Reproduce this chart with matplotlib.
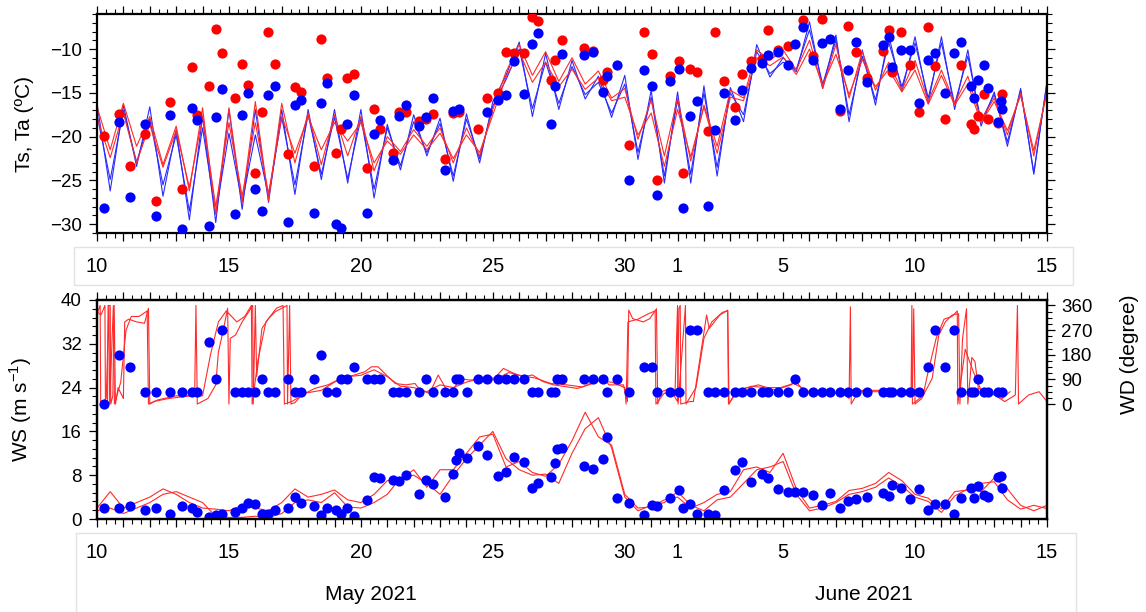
import numpy as np
import matplotlib
matplotlib.use("Agg")
import matplotlib.pyplot as plt
from matplotlib.patches import Rectangle
from matplotlib.ticker import MultipleLocator, FixedLocator

plt.rcParams['font.family'] = ['Liberation Sans', 'DejaVu Sans']
plt.rcParams['mathtext.fontset'] = 'custom'
plt.rcParams['mathtext.rm'] = 'Liberation Sans'

nan = np.nan

# === Model series, every 12 h, x = days since 10 May 2021 ===
model_day = np.arange(0, 36.01, 0.5)

ts_model_a = [
    -16.2, -26.2, -16.4, -23.4, -16.6, -26.8, -19.2, -29.5, -17.7, -29.8,
    -16.9, -28.3, -16.9, -27.5, -16.9, -26.6, -16.9, -24.9, -16.9, -25.3,
    -16.9, -27.0, -18.6, -23.8, -17.5, -22.2, -17.9, -25.1, -17.4, -23.0,
    -16.0, -13.0, -9.2, -17.7, -10.5, -16.9, -11.3, -15.7, -13.1, -17.8,
    -13.0, -22.6, -14.7, -25.3, -14.9, -25.3, -14.2, -24.5, -14.4, -18.3,
    -9.5, -13.2, -11.0, -12.6, -6.9, -14.5, -8.4, -18.3, -10.1, -16.4,
    -8.4, -14.8, -8.6, -16.2, -8.6, -16.9, -10.1, -18.8, -14.9, -21.1,
    -14.5, -24.3, -13.7]
ts_model_b = [
    -17.5, -24.9, -17.0, -22.9, -18.0, -25.5, -19.8, -28.5, -19.0, -28.8,
    -19.6, -27.5, -19.8, -26.8, -17.8, -25.5, -17.5, -24.3, -17.8, -24.8,
    -17.9, -26.0, -19.0, -23.3, -18.3, -21.8, -18.5, -24.5, -18.0, -22.5,
    -16.5, -13.5, -10.0, -16.8, -11.5, -16.2, -12.0, -15.2, -13.8, -17.3,
    -14.0, -21.8, -15.5, -24.5, -15.8, -24.3, -15.0, -23.5, -15.0, -17.5,
    -10.3, -12.8, -11.5, -12.3, -7.8, -14.0, -9.0, -17.5, -10.8, -15.8,
    -9.2, -14.3, -9.3, -15.6, -9.3, -16.3, -10.8, -18.2, -15.2, -20.6,
    -14.7, -24.1, -13.8]
ta_model_a = [
    -16.6, -21.5, -16.2, -21.1, -17.7, -23.2, -18.8, -26.2, -16.7, -28.9,
    -16.7, -27.5, -16.0, -27.3, -16.2, -23.0, -17.3, -23.2, -17.5, -22.2,
    -17.7, -23.9, -20.0, -21.7, -19.2, -21.1, -19.0, -23.0, -19.0, -22.2,
    -16.9, -12.6, -9.5, -13.0, -10.3, -13.7, -11.0, -14.0, -12.5, -15.6,
    -14.5, -20.3, -15.8, -22.2, -15.6, -22.8, -16.4, -21.1, -14.7, -15.6,
    -10.1, -11.3, -10.1, -12.4, -9.0, -14.5, -9.5, -15.6, -10.3, -14.7,
    -11.5, -14.7, -11.3, -16.0, -12.4, -16.2, -13.1, -18.1, -15.6, -19.8,
    -15.0, -22.2, -14.7]
ta_model_b = [
    -17.8, -22.4, -17.3, -23.0, -18.6, -23.5, -19.3, -25.8, -17.7, -28.0,
    -18.4, -26.8, -18.4, -26.5, -17.7, -21.9, -17.7, -21.5, -18.4, -20.5,
    -18.4, -23.0, -20.5, -22.0, -19.8, -21.5, -19.6, -22.5, -19.8, -21.8,
    -17.5, -13.2, -10.3, -13.8, -11.5, -14.3, -12.3, -14.6, -13.3, -15.9,
    -15.5, -19.8, -17.3, -23.4, -16.9, -22.3, -16.6, -21.9, -15.5, -15.9,
    -11.0, -11.9, -10.9, -12.9, -10.0, -14.1, -10.6, -15.2, -11.2, -14.3,
    -12.3, -14.9, -12.4, -16.3, -13.0, -16.4, -14.0, -18.4, -16.0, -19.3,
    -15.3, -21.6, -15.0]
ws_model_a = [
    2.0, 5.0, 2.0, 3.0, 4.0, 5.5, 4.5, 3.0, 2.0, 1.8,
    1.5, 2.5, 2.0, 1.5, 3.0, 5.5, 4.0, 4.5, 5.3, 3.5,
    3.0, 4.5, 7.0, 7.2, 9.0, 5.8, 9.0, 9.0, 12.0, 15.0,
    15.5, 9.5, 10.5, 8.5, 7.8, 10.0, 14.3, 19.5, 15.0, 13.5,
    4.5, 2.0, 2.2, 3.5, 4.0, 2.0, 3.0, 4.5, 5.0, 9.0,
    9.5, 8.5, 12.0, 5.5, 2.0, 2.5, 3.2, 5.2, 5.6, 6.5,
    8.5, 7.0, 4.5, 3.8, 1.8, 5.0, 5.3, 6.5, 6.8, 3.5,
    1.8, 2.5, 1.9]
ws_model_b = [
    1.5, 2.0, 1.0, 2.0, 3.0, 4.5, 5.0, 4.0, 3.0, 0.5,
    0.3, 0.3, 0.5, 0.3, 1.0, 3.0, 3.5, 3.0, 4.8, 2.2,
    2.0, 3.0, 4.5, 7.5, 8.0, 6.5, 4.5, 8.0, 11.0, 13.5,
    16.0, 11.0, 9.0, 8.0, 8.2, 6.5, 12.0, 16.5, 18.5, 13.0,
    4.0, 1.5, 2.5, 3.0, 5.0, 2.5, 1.5, 3.5, 4.0, 6.5,
    9.0, 9.5, 10.5, 4.5, 1.5, 2.0, 3.0, 4.5, 5.0, 5.8,
    7.5, 6.0, 4.0, 3.2, 1.2, 4.2, 5.5, 5.0, 7.5, 5.5,
    2.5, 1.5, 2.5]

# wind direction (degree), irregular times
wd_day_a = [0.00, 0.15, 0.30, 0.32, 0.40, 0.42, 0.50, 0.52, 0.60, 0.65,
            0.70, 0.80, 1.00, 1.05, 1.20, 1.50, 1.80, 1.95, 2.00, 2.20,
            2.70, 3.20, 3.70, 3.75, 3.80, 4.20, 4.50, 4.60, 4.80, 4.95,
            5.00, 5.05, 5.25, 5.50, 5.75, 5.90, 5.92, 6.00, 6.05, 6.25,
            6.50, 6.75, 7.00, 7.20, 7.22, 7.30, 7.35, 7.50, 7.75, 8.25,
            8.75, 9.25, 9.75, 10.15, 10.40, 10.65, 10.90, 11.30, 11.70, 12.05,
            12.24, 12.60, 12.93, 13.25, 13.50, 13.75, 14.07, 14.50, 15.00, 15.40,
            15.80, 16.15, 16.50, 16.90, 17.30, 17.80, 18.20, 18.70, 19.20, 19.40,
            19.95, 20.10, 20.15, 20.30, 20.70, 20.95, 21.20, 21.25, 21.40, 21.70,
            22.00, 22.05, 22.10, 22.12, 22.47, 22.60, 23.10, 23.20, 23.60, 23.90,
            23.95, 24.20, 24.56, 25.06, 25.70, 26.30, 26.45, 26.70, 27.10, 27.50,
            27.70, 28.20, 28.50, 28.55, 28.58, 28.85, 29.50, 30.10, 30.75, 30.90,
            30.95, 31.00, 31.25, 31.65, 31.90, 32.15, 32.40, 32.65, 32.70, 32.80,
            32.95, 33.00, 33.15, 33.27, 33.40, 33.65, 34.00, 34.40, 34.80, 34.88,
            34.92, 35.30, 35.70, 36.00]
wd_model_a = [337, 325, 360, 0, 0, 360, 360, 0, 30, 360,
              0, 60, 20, 300, 310, 300, 295, 350, 0, 10,
              20, 26, 32, 360, 0, 20, 70, 190, 276, 350,
              0, 240, 252, 300, 337, 360, 0, 360, 100, 276,
              312, 337, 350, 360, 0, 360, 0, 5, 32, 57,
              70, 94, 106, 118, 136, 136, 112, 75, 70, 75,
              51, 39, 106, 51, 51, 94, 88, 88, 88, 130,
              112, 100, 106, 82, 70, 63, 57, 72, 94, 70,
              70, 9, 343, 312, 300, 312, 348, 0, 45, 57,
              9, 348, 360, 0, 9, 9, 325, 276, 325, 343,
              0, 45, 57, 70, 51, 70, 88, 57, 33, 45,
              33, 45, 20, 355, 0, 45, 45, 45, 45, 39,
              348, 0, 20, 94, 252, 300, 325, 330, 0, 240,
              348, 0, 170, 155, 57, 45, 33, 9, 33, 360,
              0, 33, 45, 9]
wd_day_b = [0.00, 0.12, 0.14, 0.35, 0.45, 0.48, 0.62, 0.66, 0.90, 1.10,
            1.30, 1.60, 1.90, 1.95, 2.30, 3.00, 3.60, 4.00, 4.30, 4.60,
            4.90, 5.30, 5.60, 5.85, 5.88, 6.10, 6.40, 6.80, 7.05, 7.10,
            7.40, 7.90, 8.50, 9.00, 9.50, 10.00, 10.50, 11.00, 11.50, 12.00,
            12.50, 13.00, 13.50, 14.00, 14.60, 15.20, 15.60, 16.00, 16.60, 17.20,
            17.80, 18.40, 18.90, 19.50, 20.00, 20.05, 20.12, 20.50, 20.90, 21.15,
            21.18, 21.50, 21.90, 22.00, 22.02, 22.30, 22.32, 22.70, 23.00, 23.30,
            23.70, 23.90, 23.93, 24.30, 24.80, 25.30, 25.90, 26.40, 27.00, 27.60,
            28.30, 28.90, 29.60, 30.30, 30.85, 30.88, 30.90, 31.30, 31.50, 31.80,
            32.10, 32.40, 32.60, 32.62, 32.90, 33.05, 33.20, 33.50, 33.90, 34.30,
            34.60]
wd_model_b = [330, 360, 0, 20, 360, 0, 360, 0, 80, 270,
              320, 320, 340, 0, 15, 30, 30, 30, 180, 300,
              340, 300, 320, 360, 0, 160, 300, 350, 360, 0,
              10, 40, 50, 80, 100, 105, 125, 100, 65, 60,
              45, 70, 60, 80, 95, 95, 115, 105, 95, 75,
              70, 62, 85, 80, 60, 0, 300, 310, 330, 340,
              0, 40, 30, 360, 0, 360, 0, 60, 240, 300,
              335, 340, 0, 50, 65, 60, 60, 75, 45, 40,
              40, 50, 50, 45, 50, 360, 0, 30, 120, 240,
              310, 320, 340, 0, 200, 160, 120, 50, 40, 20,
              45]

# === Observations (dots) ===
obs_day = [0.25, 0.85, 1.24, 1.82, 2.24, 2.75, 3.23, 3.61, 3.79, 4.24,
           4.50, 4.72, 5.24, 5.51, 5.73, 5.99, 6.24, 6.49, 6.75, 7.22,
           7.49, 7.73, 8.21, 8.50, 8.73, 9.07, 9.25, 9.49, 9.73, 10.23,
           10.48, 10.72, 11.23, 11.44, 11.72,
           12.21, 12.47, 12.72, 13.20, 13.48, 13.60, 13.73, 14.03, 14.45, 14.77,
           15.19, 15.50, 15.80, 16.18, 16.47, 16.72, 17.19, 17.34, 17.42, 17.63,
           18.45, 18.78, 19.19, 19.31, 19.72, 20.17, 20.73, 21.03, 21.21, 21.71,
           22.07, 22.19, 22.47, 22.75, 23.16, 23.43, 23.76,
           24.18, 24.43, 24.79, 25.19, 25.42, 25.80, 26.17, 26.45, 26.77, 27.15,
           27.46, 27.78, 28.16, 28.45, 28.75, 29.17, 29.77, 30.01, 30.14, 30.46,
           30.79, 31.15, 31.48, 31.77, 32.13, 32.47, 32.75, 33.12, 33.25, 33.40,
           33.63, 33.78, 34.16, 34.25, 34.31]
ts_obs = [-28.1, -18.3, -26.9, -18.6, -29.1, -17.5, -30.5, -16.7, -18.1, -30.2,
          -17.8, -14.6, -28.8, -17.5, -15.0, -26.0, -28.5, -15.3, -14.2, -29.8,
          -16.4, -15.8, -28.7, -16.2, -13.9, -30.0, -30.4, -18.6, -15.2, -28.7,
          -19.7, -18.1, -22.7, -17.6, -16.4,
          -18.8, -17.8, -15.6, -23.8, -17.1, nan, -16.9, nan, nan, -17.2,
          -15.8, -15.3, -11.4, -15.1, -9.4, -8.2, -18.6, -14.2, nan, -10.6,
          -10.7, -10.3, -14.9, -13.1, -11.8, -25.0, -12.4, -14.2, -26.7, -13.6,
          -12.3, -28.2, -17.6, -15.9, -27.9, -19.2, -15.0,
          -18.1, -14.7, -12.2, -11.6, -10.7, -10.3, -11.8, -9.4, -7.5, -11.2,
          -9.3, -8.8, -16.9, -12.4, -9.2, -13.8, -9.5, -8.6, -12.0, -10.1,
          -10.1, -16.2, -11.3, -10.5, -15.0, -10.4, -9.2, -14.2, -15.6, -13.5,
          -11.8, -14.4, -18.3, -15.9, -16.9]
ta_obs = [-19.9, -17.4, -23.4, -19.7, -27.4, -16.0, -26.0, -12.0, -17.5, -14.2,
          -7.7, -10.5, -15.6, -11.7, -14.1, -24.1, -17.2, -8.1, -11.7, -22.0,
          -14.3, -14.9, -23.3, -8.8, -13.3, -21.9, -19.1, -13.3, -12.9, -23.6,
          -16.9, -19.1, -21.9, -17.2, -17.2,
          -18.2, -18.0, -17.4, -22.6, -17.3, nan, -17.2, nan, -19.1, -15.6,
          -15.0, -10.3, -10.5, -10.4, -6.3, -6.8, -13.5, -11.2, nan, -9.0,
          -9.9, -10.2, -13.5, -12.6, nan, -21.0, -8.0, -10.6, -25.0, -13.1,
          -11.4, -24.1, -12.3, -12.6, -19.3, -8.1, -13.6,
          -16.6, -12.8, -11.4, -11.1, -7.8, -10.1, -9.7, nan, -6.7, -10.8,
          -6.6, nan, -17.1, -7.4, -10.3, -13.3, -10.2, -7.8, -12.6, -8.0,
          -11.8, -17.2, -7.5, -11.9, -18.0, nan, -11.8, -18.6, -19.1, -17.7,
          -15.1, -18.0, -18.4, nan, -15.1]
ws_obs = [2.0, 2.1, 2.3, 1.6, 2.1, 1.0, 2.4, 2.0, 1.2, 0.4,
          0.7, 1.0, 1.3, 2.1, 3.0, 2.7, 0.9, 1.0, 1.6, 2.0,
          4.0, 3.0, 2.4, 0.7, 2.1, 1.6, 1.0, 2.0, 0.6, 3.5,
          7.7, 7.4, 7.1, 6.9, 8.0,
          4.6, 7.1, 6.4, 4.1, 8.2, 10.8, 12.0, 11.2, 13.4, 11.6,
          7.9, 8.5, 11.4, 10.5, 5.7, 6.5, 7.6, 10.2, 12.8, 13.0,
          9.6, 9.1, 10.9, 14.9, 3.8, 2.9, 0.7, 2.6, 2.4, 3.8,
          5.3, 2.0, 2.7, 1.0, 0.9, 0.7, 5.3,
          9.0, 10.5, 6.7, 8.2, 7.5, 5.5, 5.0, 5.0, 5.0, 4.4,
          2.6, 4.7, 2.1, 3.2, 3.7, 4.1, 4.7, 4.2, 6.3, 5.7,
          3.7, 5.4, 1.6, 2.7, 2.7, 1.0, 3.9, 5.6, 3.9, 6.1,
          4.3, 4.0, 7.7, 7.9, 5.7]
wd_obs = [0, 180, 135, 45, 45, 45, 45, 45, 45, 225,
          90, 270, 45, 45, 45, 45, 90, 45, 45, 90,
          45, 45, 90, 180, 45, 45, 90, 90, 135, 90,
          90, 90, 45, 45, 45,
          45, 90, 45, 45, 45, 90, 90, 45, 90, 90,
          90, 90, 90, 90, 45, 45, 45, 45, 90, 90,
          90, 90, 90, 45, 90, 45, 135, 135, 45, 45,
          45, nan, 270, 270, 45, 45, 45,
          45, 45, 45, 45, 45, 45, 45, 90, 45, 45,
          45, 45, 45, 45, 45, 45, 45, 45, 45, 45,
          45, 45, 135, 270, 135, 270, 45, 45, 45, 90,
          45, 45, 45, nan, 45]

# x tick labels (day of month) at days since 10 May
tick_day = [0, 5, 10, 15, 20, 22, 26, 31, 36]
tick_text = ['10', '15', '20', '25', '30', '1', '5', '10', '15']

BLUE = '#0000ff'
RED = '#ff0000'
DOT = 54
W, H = 1146, 612

fig = plt.figure(figsize=(W / 100, H / 100), dpi=100)

# light boxes that hold the date labels
fig.patches.append(Rectangle((74 / W, 1 - 285 / H), 999 / W, 38 / H,
                             transform=fig.transFigure, fill=False,
                             edgecolor='#e2e2e2', lw=1.0))
fig.patches.append(Rectangle((76 / W, -0.01), 1000 / W, (612 - 533) / H + 0.01,
                             transform=fig.transFigure, fill=False,
                             edgecolor='#e2e2e2', lw=1.0))

ax_t = fig.add_axes([97 / W, 1 - 233 / H, 950 / W, 219 / H])
ax_b = fig.add_axes([97 / W, 1 - 519 / H, 950 / W, 219 / H])


def style_x(ax):
    ax.set_xlim(0, 36)
    labels = {d: s for d, s in zip(tick_day, tick_text)}
    days = list(range(0, 37))
    ax.set_xticks(days)
    ax.set_xticklabels([labels.get(d, '') for d in days])
    ax.xaxis.set_minor_locator(MultipleLocator(1 / 3))
    ax.tick_params(axis='x', which='both', direction='out', top=True,
                   labelsize=14.5, pad=11)
    ax.tick_params(axis='both', which='major', length=6, width=0.9)
    ax.tick_params(axis='both', which='minor', length=3.5, width=0.8)
    for s in ax.spines.values():
        s.set_linewidth(1.6)


# === Top panel: surface / air temperature ===
ax_t.plot(model_day, ts_model_a, color='#2a2aff', lw=0.8)
ax_t.plot(model_day, ts_model_b, color='#2a2aff', lw=0.8)
ax_t.plot(model_day, ta_model_a, color='#ff2a2a', lw=0.8)
ax_t.plot(model_day, ta_model_b, color='#ff2a2a', lw=0.8)
ax_t.scatter(obs_day, ta_obs, s=DOT, color=RED, linewidths=0, zorder=3)
ax_t.scatter(obs_day, ts_obs, s=DOT, color=BLUE, linewidths=0, zorder=4)
ax_t.set_ylim(-31, -6)
ax_t.yaxis.set_major_locator(MultipleLocator(5))
ax_t.yaxis.set_minor_locator(MultipleLocator(1))
ax_t.tick_params(axis='y', which='both', direction='out', right=True,
                 labelsize=13.5, pad=5)
style_x(ax_t)
ax_t.set_ylabel('Ts, Ta (ºC)', fontsize=15)
ax_t.yaxis.set_label_coords(-0.066, 0.5)

# === Bottom panel: wind speed and direction ===
ax_b.plot(model_day, ws_model_a, color='#ff2a2a', lw=0.8)
ax_b.plot(model_day, ws_model_b, color='#ff2a2a', lw=0.8)
ax_b.scatter(obs_day, ws_obs, s=DOT, color=BLUE, linewidths=0, zorder=4)
ax_b.set_ylim(0, 40)
ax_b.yaxis.set_major_locator(MultipleLocator(8))
ax_b.yaxis.set_minor_locator(MultipleLocator(1.6))
ax_b.tick_params(axis='y', which='both', direction='out', right=True,
                 labelsize=13.5, pad=5)
style_x(ax_b)
ax_b.set_ylabel(r'WS (m s$^{\mathregular{-1}}$)', fontsize=15)
ax_b.yaxis.set_label_coords(-0.066, 0.5)

ax_d = ax_b.twinx()
ax_d.plot(wd_day_a, wd_model_a, color='#ff2a2a', lw=0.8)
ax_d.plot(wd_day_b, wd_model_b, color='#ff2a2a', lw=0.8)
ax_d.scatter(obs_day, wd_obs, s=DOT, color=BLUE, linewidths=0, zorder=4)
ax_d.set_ylim(-420, 380)
ax_d.set_xlim(0, 36)
ax_d.yaxis.set_major_locator(FixedLocator([0, 90, 180, 270, 360]))
ax_d.yaxis.set_minor_locator(FixedLocator(np.arange(0, 361, 22.5)))
ax_d.tick_params(axis='y', which='major', direction='out', length=6,
                 width=0.9, labelsize=13.5, pad=4)
ax_d.tick_params(axis='y', which='minor', direction='out', length=3.5, width=0.8)
for s in ax_d.spines.values():
    s.set_linewidth(1.6)
ax_d.set_ylabel('WD (degree)', fontsize=15)
ax_d.yaxis.set_label_coords(1.077, 0.75)

fig.text(371 / W, 1 - 594 / H, 'May 2021', fontsize=15, ha='center', va='center')
fig.text(864 / W, 1 - 594 / H, 'June 2021', fontsize=15, ha='center', va='center')

fig.savefig('out.png', dpi=100)
